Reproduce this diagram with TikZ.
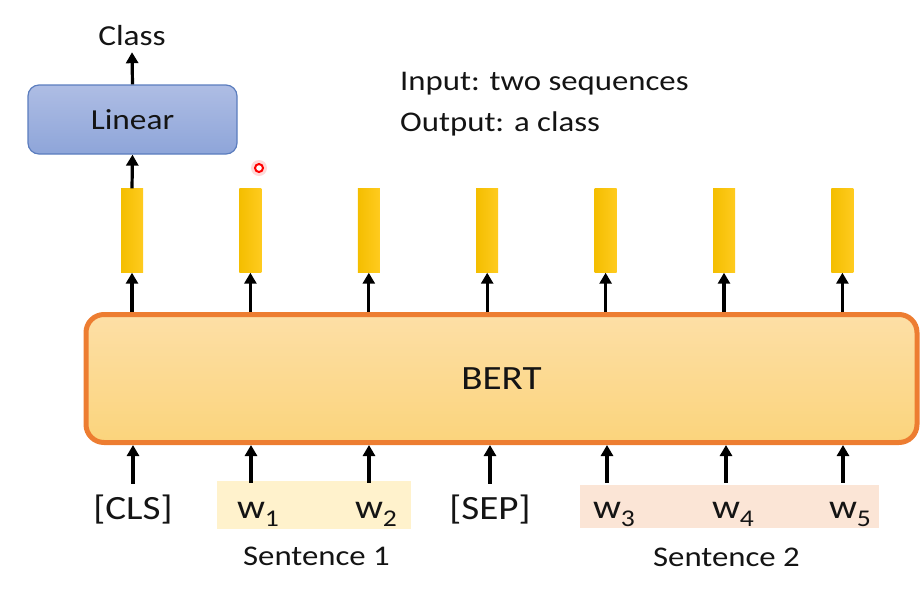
\documentclass[tikz,border=0pt]{standalone}
\usepackage{fontspec}
\setmainfont{Carlito}
\usetikzlibrary{arrows.meta}
\newcommand{\hs}[1]{\scalebox{1.15}[1]{#1}}
\newcommand{\wsub}[2]{\hs{w\rlap{\raisebox{-8pt}{\fontsize{24}{26}\selectfont #2}}}}
\definecolor{txt}{HTML}{141414}
\definecolor{bertline}{HTML}{ED7D31}
\definecolor{berttop}{HTML}{FDDFA6}
\definecolor{bertbot}{HTML}{FBD47C}
\definecolor{lintop}{HTML}{AEBDE4}
\definecolor{linbot}{HTML}{8EA5D9}
\definecolor{linline}{HTML}{5B7DBE}
\definecolor{barl}{HTML}{F4BE00}
\definecolor{barr}{HTML}{FFCB1F}
\definecolor{sone}{HTML}{FFF2CC}
\definecolor{stwo}{HTML}{FBE5D6}
\begin{document}
\begin{tikzpicture}[x=1pt,y=-1pt,
  arr/.style={line width=3.2pt,draw=black,-{Triangle[width=12pt,length=11pt]}},
  tok/.style={anchor=base,inner sep=0pt,text height=35pt,text depth=8pt,text=txt,font=\fontsize{34}{38}\selectfont},
  barbox/.style={minimum width=22pt,minimum height=84pt,inner sep=0pt,left color=barl,right color=barr},
  lab/.style={text=txt,inner sep=0pt}]
\useasboundingbox (0,0) rectangle (921,590);
% sentence backgrounds
\node[fill=sone,minimum width=194pt,minimum height=48pt,inner sep=0pt] (sbox1) at (314,505) {};
\node[fill=stwo,minimum width=299pt,minimum height=43pt,inner sep=0pt] (sbox2) at (729.5,506.5) {};
% BERT
\node[draw=bertline,line width=5pt,rounded corners=18pt,top color=berttop,bottom color=bertbot,
      minimum width=831pt,minimum height=128pt,inner sep=0pt,text=txt,font=\fontsize{34}{38}\selectfont] (BERT) at (501.5,378.5) {\hs{BERT}};
% Linear
\node[draw=linline,line width=1.2pt,rounded corners=11pt,top color=lintop,bottom color=linbot,
      minimum width=209pt,minimum height=69pt,inner sep=0pt,text=txt,font=\fontsize{29}{32}\selectfont] (lin) at (132.5,119.5) {\hs{Linear}};
\node[lab,anchor=base,text depth=7pt,font=\fontsize{29}{32}\selectfont] (cls) at (132,45) {\hs{Class}};
% texts
\node[lab,anchor=base west,font=\fontsize{28.5}{32}\selectfont] (inp) at (400,90) {\hs{Input: two sequences}};
\node[lab,anchor=base west,font=\fontsize{28.5}{32}\selectfont] (outp) at (400,131) {\hs{Output: a class}};
% bars
\foreach \i/\x in {1/132,2/250.4,3/368.8,4/487.2,5/605.6,6/724,7/842.4}{
  \node[barbox] (b\i) at (\x,230.5) {};
}
% tokens
\node[tok] (t1) at (133,519) {\hs{[CLS]}};
\node[tok] (t2) at (251,518) {\wsub{w}{1}};
\node[tok] (t3) at (369,518) {\wsub{w}{2}};
\node[tok] (t4) at (490,519) {\hs{[SEP]}};
\node[tok] (t5) at (607,518) {\wsub{w}{3}};
\node[tok] (t6) at (726,518) {\wsub{w}{4}};
\node[tok] (t7) at (843,518) {\wsub{w}{5}};
\node[lab,anchor=base,font=\fontsize{28.5}{32}\selectfont] (sen1) at (316.5,565) {\hs{Sentence 1}};
\node[lab,anchor=base,font=\fontsize{28.5}{32}\selectfont] (sen2) at (726.5,566) {\hs{Sentence 2}};
% arrows
\foreach \i in {1,...,7}{
  \draw[arr] (t\i.north) -- (t\i.north |- BERT.south);
  \draw[arr] (b\i |- BERT.north) -- (b\i.south);
}
\draw[arr] (b1.north) -- (lin.south);
\draw[arr] (lin.north) -- (cls.south);
% pointer dot
\fill[red,opacity=0.15] (259,168) circle (8pt);
\node[circle,draw=red,line width=2pt,fill=white,minimum size=8pt,inner sep=0pt] (dot) at (259,168) {};
\end{tikzpicture}
\end{document}
